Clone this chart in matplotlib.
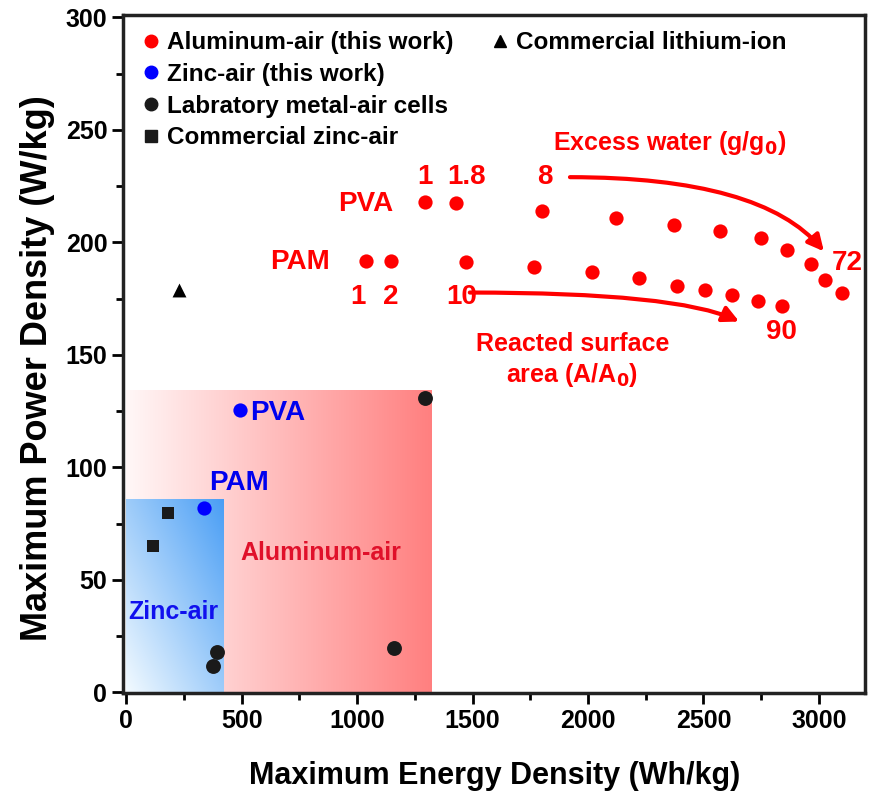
import numpy as np
import matplotlib.pyplot as plt
from matplotlib.lines import Line2D
from matplotlib.patches import FancyArrowPatch

plt.rcParams['font.family'] = ['Liberation Sans', 'DejaVu Sans']
plt.rcParams['font.weight'] = 'bold'

# aluminum-air (this work)
al_pva_x = [1294, 1428, 1800, 2120, 2373, 2573, 2748, 2862, 2966, 3028, 3099]
al_pva_y = [218, 217.5, 214, 210.7, 207.8, 205, 202, 196.8, 190.6, 183.3, 177.5]
al_pam_x = [1039, 1147, 1472, 1764, 2016, 2222, 2385, 2507, 2623, 2737, 2840]
al_pam_y = [191.6, 191.6, 191.1, 188.9, 186.7, 184, 180.8, 179, 176.8, 174.1, 171.5]

# zinc-air (this work): PVA, PAM
zn_x = [493, 335]
zn_y = [125.3, 81.8]

# laboratory metal-air cells
lab_x = [1294, 1160, 392, 374]
lab_y = [131, 19.8, 17.7, 11.5]

# commercial zinc-air
czn_x = [117, 179]
czn_y = [64.8, 79.6]

# commercial lithium-ion
li_x = [227]
li_y = [179]

# shaded regions (energy max, power max)
zn_region = (423, 85.8)
al_region = (1323, 134)

fig = plt.figure(figsize=(8.77, 8.06), dpi=100)
ax = fig.add_axes([0.1406, 0.1398, 0.8457, 0.8413])

# red gradient, white -> salmon from left to right
n = 256
t = np.linspace(0, 1, n)
red = np.zeros((2, n, 3))
red[:, :, 0] = 1.0
red[:, :, 1] = 0.97 - 0.47 * t
red[:, :, 2] = 0.97 - 0.47 * t
ax.imshow(red, extent=[0, al_region[0], 0, al_region[1]], aspect='auto',
          origin='lower', zorder=0, interpolation='bilinear')

# blue gradient, white (bottom-left) -> blue (top-right)
u, v = np.meshgrid(np.linspace(0, 1, 100), np.linspace(0, 1, 100))
d = (u + v) / 2
blue = np.zeros((100, 100, 3))
blue[:, :, 0] = 0.95 - 0.66 * d
blue[:, :, 1] = 0.98 - 0.36 * d
blue[:, :, 2] = 1.0 - 0.04 * d
ax.imshow(blue, extent=[0, zn_region[0], 0, zn_region[1]], aspect='auto',
          origin='lower', zorder=1, interpolation='bilinear')

ax.scatter(al_pva_x, al_pva_y, s=105, color='#ff0000', zorder=3, linewidths=0)
ax.scatter(al_pam_x, al_pam_y, s=105, color='#ff0000', zorder=3, linewidths=0)
ax.scatter(zn_x, zn_y, s=105, color='#0000ff', zorder=3, linewidths=0)
ax.scatter(lab_x, lab_y, s=115, color='#1a1a1a', zorder=3, linewidths=0)
ax.scatter(czn_x, czn_y, s=85, color='#1a1a1a', marker='s', zorder=3, linewidths=0)
ax.scatter(li_x, li_y, s=100, color='black', marker='^', zorder=3, linewidths=0)

red_c = '#ff0000'
ax.text(1155, 217, 'PVA', color=red_c, fontsize=20, ha='right', va='center')
ax.text(880, 191.5, 'PAM', color=red_c, fontsize=20, ha='right', va='center')
for x, s in zip([1294, 1475, 1815], ['1', '1.8', '8']):
    ax.text(x, 229, s, color=red_c, fontsize=20, ha='center', va='center')
for x, s in zip([1005, 1147, 1455], ['1', '2', '10']):
    ax.text(x, 175.5, s, color=red_c, fontsize=20, ha='center', va='center')
ax.text(3123, 191, '72', color=red_c, fontsize=20, ha='center', va='center')
ax.text(2840, 160, '90', color=red_c, fontsize=20, ha='center', va='center')
ax.text(2352, 244, 'Excess water (g/g$_\\mathbf{0}$)', color=red_c, fontsize=18,
        ha='center', va='center')
ax.text(1932, 147.5, 'Reacted surface\narea (A/A$_\\mathbf{0}$)', color=red_c,
        fontsize=18, ha='center', va='center', linespacing=1.25)

ax.add_patch(FancyArrowPatch((1922, 229), (3022, 196), arrowstyle='-|>',
                             mutation_scale=24, lw=3, color=red_c,
                             shrinkA=0, shrinkB=0,
                             connectionstyle='angle3,angleA=0,angleB=-50',
                             zorder=4))
ax.add_patch(FancyArrowPatch((1488, 177.7), (2655, 164.8), arrowstyle='-|>',
                             mutation_scale=24, lw=3, color=red_c,
                             shrinkA=0, shrinkB=0,
                             connectionstyle='angle3,angleA=0,angleB=-25',
                             zorder=4))

ax.text(538, 124.3, 'PVA', color='#0000ee', fontsize=20, va='center')
ax.text(359, 93, 'PAM', color='#0000ee', fontsize=20, va='center')
ax.text(9, 35.5, 'Zinc-air', color='#1010ee', fontsize=18, va='center')
ax.text(496, 62, 'Aluminum-air', color='#e0102a', fontsize=18, va='center')

ax.set_xlim(-13, 3200)
ax.set_ylim(-0.5, 301)
ax.set_xticks(np.arange(0, 3001, 500))
ax.set_xticks(np.arange(250, 3001, 500), minor=True)
ax.set_yticks(np.arange(0, 301, 50))
ax.set_yticks(np.arange(25, 300, 50), minor=True)
ax.tick_params(which='major', direction='out', length=8, width=2, labelsize=18)
ax.tick_params(which='minor', direction='out', length=5, width=2)
for sp in ax.spines.values():
    sp.set_linewidth(2.5)
    sp.set_color('#222222')

ax.set_xlabel('Maximum Energy Density (Wh/kg)', fontsize=22,
              fontweight='bold', labelpad=20)
ax.set_ylabel('Maximum Power Density (W/kg)', fontsize=26, fontweight='bold')
ax.yaxis.set_label_coords(-0.092, 0.48)

h1 = [
    Line2D([], [], ls='', marker='o', color='#ff0000', markersize=9),
    Line2D([], [], ls='', marker='o', color='#0000ff', markersize=9),
    Line2D([], [], ls='', marker='o', color='#1a1a1a', markersize=9),
    Line2D([], [], ls='', marker='s', color='#1a1a1a', markersize=8),
]
l1 = ['Aluminum-air (this work)', 'Zinc-air (this work)',
      'Labratory metal-air cells', 'Commercial zinc-air']
leg1 = ax.legend(h1, l1, loc='upper left', bbox_to_anchor=(0.0, 1.0),
                 frameon=False, fontsize=17.5, handletextpad=0.15,
                 handlelength=1.0, labelspacing=0.36, borderaxespad=0.25)
ax.add_artist(leg1)
h2 = [Line2D([], [], ls='', marker='^', color='black', markersize=9)]
ax.legend(h2, ['Commercial lithium-ion'], loc='upper left',
          bbox_to_anchor=(0.47, 1.0), frameon=False, fontsize=17.5,
          handletextpad=0.15, handlelength=1.0, borderaxespad=0.25)

fig.savefig('out.png', dpi=100)
